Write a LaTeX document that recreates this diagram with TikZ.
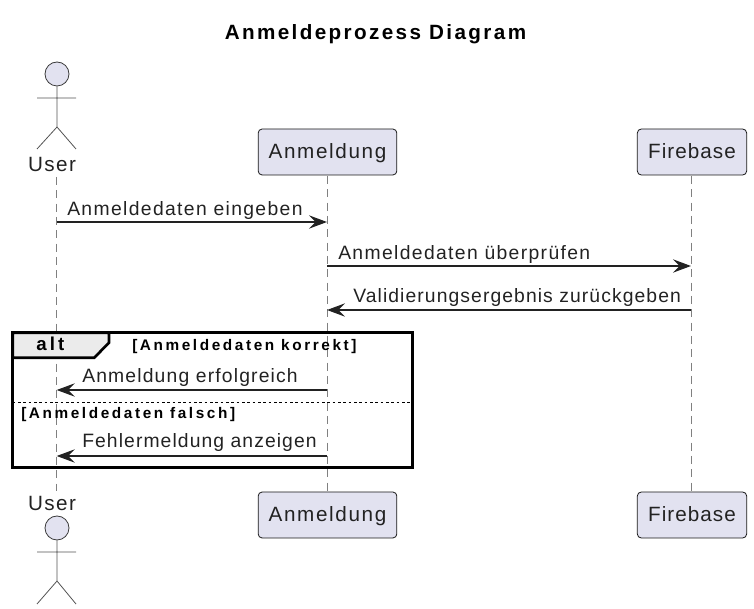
\documentclass[tikz,border=0pt]{standalone}
\usepackage{fontspec}
\setmainfont{Liberation Sans}
\newfontfamily\lblfont[LetterSpace=7]{Liberation Sans}
\newfontfamily\lblfontb[LetterSpace=6]{Liberation Sans}
\newfontfamily\lblfontc[LetterSpace=5.6]{Liberation Sans}
\newfontfamily\partfonta[LetterSpace=8]{Liberation Sans}
\newfontfamily\partfontb[LetterSpace=5]{Liberation Sans}
\newfontfamily\boldlbl[LetterSpace=17]{Liberation Sans Bold}
\newfontfamily\titlefont[LetterSpace=11.5]{Liberation Sans Bold}
\usetikzlibrary{arrows.meta}
\definecolor{partfill}{HTML}{E2E2F0}
\definecolor{partline}{HTML}{181818}
\definecolor{lifeline}{HTML}{808080}
\definecolor{inkc}{HTML}{222222}
\tikzset{
 part/.style={draw=partline,fill=partfill,rounded corners=3pt,line width=.6pt,minimum height=34.5pt,inner sep=0pt,text=inkc,text height=12pt,text depth=2.5pt},
 parta/.style={part,minimum width=104pt,font=\partfonta\fontsize{15.5}{18}\selectfont},
 partb/.style={part,minimum width=82pt,font=\partfontb\fontsize{15.5}{18}\selectfont},
 lbl/.style={font=\lblfont\fontsize{14.5}{17}\selectfont,text=inkc,inner sep=0pt,anchor=base west},
 lblb/.style={lbl,font=\lblfontb\fontsize{14.5}{17}\selectfont},
 lblc/.style={lbl,font=\lblfontc\fontsize{14.5}{17}\selectfont},
 actorlbl/.style={font=\lblfont\fontsize{15.5}{18}\selectfont,text=inkc,inner sep=0pt,anchor=base},
 guard/.style={font=\boldlbl\fontsize{11.5}{13}\selectfont,text=black,inner sep=0pt,anchor=base west},
 msg/.style={draw=inkc,line width=1.1pt,-{Stealth[length=13.5pt,width=10pt,inset=5pt]}},
 life/.style={draw=lifeline,line width=.6pt,dash pattern=on 6pt off 4pt},
 actorline/.style={draw=partline!75,line width=.6pt},
 head/.style={circle,draw=partline!85,fill=partfill,line width=.6pt,minimum size=18pt,inner sep=0pt},
}
\begin{document}
\begin{tikzpicture}[x=.75pt,y=-.75pt]
\useasboundingbox (0,0) rectangle (754,609);
\node[font=\titlefont\fontsize{15.5}{18}\selectfont,text=black,inner sep=0pt,anchor=base] (title) at (375.5,39.5) {Anmeldeprozess Diagram};
% top participants
\node[head] (uh) at (57,74) {};
\coordinate (ub) at (57,127);
\coordinate (ual) at (37,98); \coordinate (uar) at (76,98);
\coordinate (ull) at (37,149); \coordinate (ulr) at (76,149);
\draw[actorline] (uh.south) -- (ub) (ual) -- (uar) (ull) -- (ub) -- (ulr);
\node[actorlbl] (ut) at (52,171.5) {User};
\node[parta] (at) at (327.5,152) {Anmeldung};
\node[partb] (ft) at (692,152) {Firebase};
% bottom participants
\node[actorlbl] (ubt) at (52,510.5) {User};
\node[head] (uh2) at (57,528) {};
\coordinate (ub2) at (57,581);
\coordinate (ual2) at (37,552); \coordinate (uar2) at (76,552);
\coordinate (ull2) at (37,604); \coordinate (ulr2) at (76,604);
\draw[actorline] (uh2.south) -- (ub2) (ual2) -- (uar2) (ull2) -- (ub2) -- (ulr2);
\node[parta] (ab) at (327.5,515) {Anmeldung};
\node[partb] (fb) at (692,515) {Firebase};
% lifelines
\coordinate (ls1) at (56.7,177); \coordinate (le1) at (56.7,491);
\coordinate (ls2) at (327,176); \coordinate (le2) at (327,491);
\coordinate (ls3) at (691,176); \coordinate (le3) at (691,491);
\draw[life] (ls1) -- (le1);
\draw[life] (ls2) -- (le2);
\draw[life] (ls3) -- (le3);
% messages
\foreach \n/\x/\y in {a/56.7/222,b/327/222,c/327/266,d/691/266,e/691/310,f/327/310,g/327/390,h/56.7/390,i/327/456,j/56.7/456}
  \coordinate (\n) at (\x,\y);
\draw[msg] (a) -- (b);
\draw[msg] (c) -- (d);
\draw[msg] (e) -- (f);
\draw[msg] (g) -- (h);
\draw[msg] (i) -- (j);
\node[lbl] (t1) at (67,216) {Anmeldedaten eingeben};
\node[lbl] (t2) at (338,260) {Anmeldedaten überprüfen};
\node[lblc] (t3) at (353,303) {Validierungsergebnis zurückgeben};
\node[lblb] (t4) at (82,382.5) {Anmeldung erfolgreich};
\node[lblc] (t5) at (82,448) {Fehlermeldung anzeigen};
% alt frame
\draw[line width=2pt,draw=black,fill=black!8] (12.7,332.7) -- (109,332.7) -- (109,342.7) -- (94.3,357.7) -- (12.7,357.7) -- cycle;
\draw[line width=2.3pt,draw=black] (12.7,332.7) rectangle (412.5,467.3);
\draw[line width=.75pt,dash pattern=on 2pt off 2pt] (12.7,403) -- (412.5,403);
\node[font=\boldlbl\fontsize{14}{17}\selectfont,text=black,inner sep=0pt,anchor=base west] (alt) at (36,351) {alt};
\node[guard] (g1) at (132,351) {[Anmeldedaten korrekt]};
\node[guard] (g2) at (21,419) {[Anmeldedaten falsch]};
\end{tikzpicture}
\end{document}
